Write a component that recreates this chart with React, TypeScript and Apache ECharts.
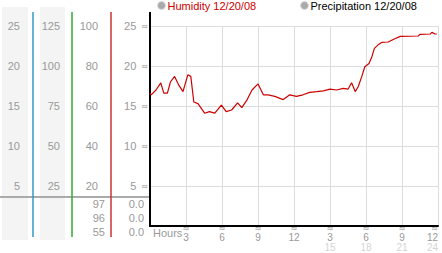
import React, { useEffect, useRef } from "react";
import * as echarts from "echarts";

// Hours since midnight (0-24) and humidity readings
const HOURS = [0, 0.1, 0.5, 0.9, 1.15, 1.45, 1.7, 2.05, 2.4, 2.75, 3.15, 3.4, 3.65, 4.0, 4.55, 4.95, 5.4, 5.95, 6.35, 6.8, 7.3, 7.65, 8.1, 8.5, 8.9, 9.0, 9.45, 9.85, 10.4, 11.1, 11.65, 12.2, 12.75, 13.3, 13.9, 14.45, 15.0, 15.55, 16.1, 16.5, 16.8, 17.1, 17.35, 17.65, 17.9, 18.25, 18.5, 18.7, 19.05, 19.3, 19.85, 20.4, 20.85, 22.35, 22.5, 23.35, 23.5, 23.75, 23.9];
const HUMIDITY = [16.6, 16.4, 17.0, 17.9, 16.6, 16.6, 18.0, 18.7, 17.6, 16.8, 18.9, 18.7, 15.5, 15.3, 14.1, 14.3, 14.1, 15.1, 14.3, 14.5, 15.4, 14.8, 15.8, 17.0, 17.6, 17.75, 16.4, 16.4, 16.2, 15.8, 16.4, 16.2, 16.4, 16.7, 16.8, 16.9, 17.1, 17.0, 17.2, 17.1, 17.9, 16.8, 17.4, 18.7, 19.9, 20.3, 21.2, 22.2, 22.7, 22.95, 23.0, 23.4, 23.7, 23.75, 23.95, 24.0, 24.2, 24.0, 24.0];

const SERIES_NAMES = ["Humidity 12/20/08", "Precipitation 12/20/08"];

// Scales of the left-hand columns: [max, interval]
const SCALE_MAIN = [25, 5];
const SCALE_COL3 = [100, 20];
const SCALE_COL2 = [125, 25];
const SCALE_COL1 = [25, 5];
const X_SCALE = [24, 3];

// Rows below the scales
const ROW_COL3 = ["97", "96", "55"];
const ROW_COL4 = ["0.0", "0.0", "0.0"];

const FONT = "Liberation Sans, Arial, sans-serif";
const MARK_FONT = "DejaVu Sans, sans-serif";
const LABEL_GRAY = "#999999";
const MARK = "\u2248";

export default function App() {
  const ref = useRef<HTMLDivElement>(null);

  useEffect(() => {
    document.body.style.margin = "0";
    if (!ref.current) return;
    const chart = echarts.init(ref.current, undefined, { renderer: "svg" });

    const data = HOURS.map((h, i) => [h, HUMIDITY[i]]);

    const sideAxis = (max: number, interval: number, offset: number) => ({
      type: "value",
      position: "left",
      min: 0,
      max,
      interval,
      offset,
      axisLine: { show: false },
      axisTick: { show: false },
      splitLine: { show: false },
      axisLabel: {
        showMinLabel: false,
        margin: 2,
        color: LABEL_GRAY,
        fontSize: 11,
        fontFamily: FONT,
      },
    });

    const rowTexts: any[] = [];
    ROW_COL3.forEach((t, i) => {
      rowTexts.push({
        type: "text",
        x: 105,
        y: 204 + i * 14,
        style: { text: t, fill: LABEL_GRAY, fontSize: 11, fontFamily: FONT, align: "right", verticalAlign: "middle" },
      });
    });
    ROW_COL4.forEach((t, i) => {
      rowTexts.push({
        type: "text",
        x: 144,
        y: 204 + i * 14,
        style: { text: t, fill: LABEL_GRAY, fontSize: 11, fontFamily: FONT, align: "right", verticalAlign: "middle" },
      });
    });

    const option: any = {
      animation: false,
      backgroundColor: "#ffffff",
      textStyle: { fontFamily: FONT },
      grid: { left: 150, right: 4, top: 26, bottom: 27, containLabel: false },
      legend: [
        {
          data: [{ name: SERIES_NAMES[0], itemStyle: { color: "#aaaaaa", borderColor: "#dddddd", borderWidth: 1 } }],
          left: 157,
          top: 0,
          padding: 0,
          icon: "circle",
          itemWidth: 8,
          itemHeight: 8,
          textStyle: { color: "#cc0000", fontSize: 11, fontFamily: FONT, padding: [0, 0, 0, -3] },
        },
        {
          data: [{ name: SERIES_NAMES[1], itemStyle: { color: "#aaaaaa", borderColor: "#dddddd", borderWidth: 1 } }],
          left: 300,
          top: 0,
          padding: 0,
          icon: "circle",
          itemWidth: 8,
          itemHeight: 8,
          textStyle: { color: "#000000", fontSize: 11, fontFamily: FONT, padding: [0, 0, 0, -3] },
        },
      ],
      xAxis: {
        type: "value",
        min: 0,
        max: X_SCALE[0],
        interval: X_SCALE[1],
        axisLine: { show: true, lineStyle: { color: "#000000", width: 2 } },
        axisTick: { show: false },
        splitLine: { show: true, lineStyle: { color: "#dddddd", width: 1 } },
        axisLabel: {
          showMinLabel: false,
          alignMaxLabel: "right",
          margin: -2,
          formatter: (v: number) => {
            const h = v > 12 ? v - 12 : v;
            return v > 12 ? `{m|${MARK}}\n{n|${h}}\n{s|${v}}` : `{m|${MARK}}\n{n|${h}}`;
          },
          rich: {
            m: { fontSize: 8, lineHeight: 8, color: "#888888", fontFamily: MARK_FONT },
            n: { fontSize: 10, lineHeight: 10, color: LABEL_GRAY, fontFamily: FONT },
            s: { fontSize: 10, lineHeight: 10, color: "#d4d4d4", fontFamily: FONT },
          },
        },
      },
      yAxis: [
        {
          type: "value",
          position: "left",
          min: 0,
          max: SCALE_MAIN[0],
          interval: SCALE_MAIN[1],
          axisLine: { show: true, lineStyle: { color: "#000000", width: 2 } },
          axisTick: { show: false },
          splitLine: { show: true, lineStyle: { color: "#dddddd", width: 1 } },
          axisLabel: {
            showMinLabel: false,
            margin: 2,
            formatter: (v: number) => `{n|${v}}{m|${MARK}}`,
            rich: {
              n: { fontSize: 11, color: LABEL_GRAY, fontFamily: FONT },
              m: { fontSize: 8, color: "#888888", fontFamily: MARK_FONT, padding: [0, 0, 0, 5] },
            },
          },
        },
        sideAxis(SCALE_COL3[0], SCALE_COL3[1], 50),
        sideAxis(SCALE_COL2[0], SCALE_COL2[1], 88),
        sideAxis(SCALE_COL1[0], SCALE_COL1[1], 128),
      ],
      graphic: {
        elements: [
          { type: "rect", z: -10, silent: true, shape: { x: 2, y: 7, width: 26, height: 233 }, style: { fill: "#f4f4f4" } },
          { type: "rect", z: -10, silent: true, shape: { x: 40, y: 7, width: 25, height: 233 }, style: { fill: "#f4f4f4" } },
          { type: "line", silent: true, shape: { x1: 0, y1: 197, x2: 150, y2: 197 }, style: { stroke: "#aaaaaa", lineWidth: 2 } },
          { type: "line", silent: true, shape: { x1: 33, y1: 12, x2: 33, y2: 237 }, style: { stroke: "#3399cc", lineWidth: 1.5 } },
          { type: "line", silent: true, shape: { x1: 72, y1: 12, x2: 72, y2: 237 }, style: { stroke: "#33aa33", lineWidth: 1.5 } },
          { type: "line", silent: true, shape: { x1: 111, y1: 12, x2: 111, y2: 237 }, style: { stroke: "#cc3333", lineWidth: 1.5 } },
          { type: "line", silent: true, shape: { x1: 150, y1: 12, x2: 150, y2: 27 }, style: { stroke: "#000000", lineWidth: 2 } },
          {
            type: "text",
            x: 153,
            y: 233,
            style: { text: "Hours", fill: LABEL_GRAY, fontSize: 11, fontFamily: FONT, verticalAlign: "middle" },
          },
          ...rowTexts,
        ],
      },
      series: [
        {
          name: SERIES_NAMES[0],
          type: "line",
          data,
          showSymbol: false,
          color: "#cc0000",
          lineStyle: { color: "#cc0000", width: 1.2 },
        },
        {
          name: SERIES_NAMES[1],
          type: "line",
          data: [],
          showSymbol: false,
          color: "#aaaaaa",
        },
      ],
    };

    chart.setOption(option);
    return () => chart.dispose();
  }, []);

  return (
    <div
      ref={ref}
      style={{ position: "fixed", left: 0, top: 0, width: 442, height: 253 }}
    />
  );
}
